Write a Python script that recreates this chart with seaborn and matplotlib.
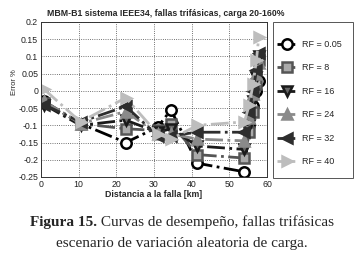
import numpy as np
import matplotlib
matplotlib.use("Agg")
import matplotlib.pyplot as plt
import matplotlib.patches as mpatches
import seaborn as sns

# fault distance [km] and error % per RF value
distancia = [0.8, 10.5, 22.5, 31, 34.5, 41.5, 54, 55.3, 56.3, 57.2, 57.8]
rf_labels = ["RF = 0.05", "RF = 8", "RF = 16", "RF = 24", "RF = 32", "RF = 40"]
err_rf005 = [-0.03, -0.095, -0.15, -0.105, -0.055, -0.21, -0.235, -0.10, -0.045, 0.0, 0.03]
err_rf8 = [-0.035, -0.095, -0.11, -0.115, -0.095, -0.185, -0.195, -0.12, -0.06, 0.02, 0.09]
err_rf16 = [-0.04, -0.10, -0.085, -0.12, -0.11, -0.16, -0.17, -0.10, -0.03, 0.04, 0.10]
err_rf24 = [-0.03, -0.095, -0.06, -0.125, -0.125, -0.14, -0.145, -0.08, -0.01, 0.05, 0.08]
err_rf32 = [-0.04, -0.09, -0.045, -0.13, -0.13, -0.12, -0.12, -0.06, 0.0, 0.06, 0.11]
err_rf40 = [0.005, -0.09, -0.02, -0.125, -0.14, -0.10, -0.09, -0.04, 0.02, 0.09, 0.155]
series = [err_rf005, err_rf8, err_rf16, err_rf24, err_rf32, err_rf40]

sns.set_style("white")
plt.rcParams["font.family"] = ["Liberation Sans", "DejaVu Sans"]

#styles for each curve
colores = ["#000000", "#555555", "#1a1a1a", "#8a8a8a", "#2e2e2e", "#bdbdbd"]
caras = ["#ffffff", "#aaaaaa", "#666666", "#8a8a8a", "#2e2e2e", "#bdbdbd"]
marcas = ["o", "s", "v", "^", "<", ">"]

W, H = 363, 259
fig = plt.figure(figsize=(W / 100, H / 100), dpi=100)
ax = fig.add_axes([41 / W, 1 - 177 / H, 226 / W, 155 / H])

for i in range(len(series)):
    sns.lineplot(x=distancia, y=series[i], ax=ax, color=colores[i], linestyle="-.",
                 linewidth=2.0, marker=marcas[i], markersize=7.5,
                 markerfacecolor=caras[i], markeredgecolor=colores[i],
                 markeredgewidth=1.8, label=rf_labels[i])

ax.set_xlim(0, 60)
ax.set_ylim(-0.25, 0.2)
ax.set_xticks([0, 10, 20, 30, 40, 50, 60])
ax.set_yticks([-0.25, -0.2, -0.15, -0.1, -0.05, 0, 0.05, 0.1, 0.15, 0.2])
ax.set_yticklabels(["-0.25", "-0.2", "-0.15", "-0.1", "-0.05", "0", "0.05", "0.1", "0.15", "0.2"])
ax.tick_params(labelsize=6.3, length=2, direction="in", pad=2, labelcolor="#222222")
ax.grid(True, linestyle=":", color="#444444", linewidth=0.6)
for s in ax.spines.values():
    s.set_color("#333333")
    s.set_linewidth(0.7)

ax.set_xlabel("Distancia a la falla [km]", fontsize=6.3, fontweight="bold", labelpad=1)
ax.set_ylabel("Error %", fontsize=5.5)
ax.yaxis.set_label_coords(-0.103, 0.61)
fig.text(166 / W, 1 - 14 / H, "MBM-B1 sistema IEEE34, fallas trifásicas, carga 20-160%",
         fontsize=6.3, fontweight="bold", ha="center", va="center")

# legend without its own frame, box drawn separately
handles, labels = ax.get_legend_handles_labels()
ax.get_legend().remove()
fig.legend(handles, labels, loc="upper left", bbox_to_anchor=(277 / W, 1 - 40 / H),
           fontsize=6.5, frameon=False, handlelength=2.3, labelspacing=1.6,
           borderpad=0, handletextpad=0.5, borderaxespad=0)
fig.patches.append(mpatches.Rectangle((273 / W, 1 - 178 / H), 80 / W, 156 / H,
                                      transform=fig.transFigure, fill=False,
                                      edgecolor="#555555", linewidth=0.7))

# caption below the plot, bold "Figura 15." then normal text
fig.canvas.draw()
r = fig.canvas.get_renderer()
cap_font = ["Liberation Serif", "DejaVu Serif"]
t1 = fig.text(0, 0, "Figura 15.", fontsize=11, fontweight="bold", family=cap_font, va="baseline")
t2 = fig.text(0, 0, " Curvas de desempeño, fallas trifásicas", fontsize=11, family=cap_font,
              va="baseline")
w1 = t1.get_window_extent(r).width
w2 = t2.get_window_extent(r).width
x0 = (W - w1 - w2) / 2 / W
y1 = 1 - 226 / H
t1.set_position((x0, y1))
t2.set_position((x0 + w1 / W, y1))
fig.text(0.5, 1 - 247 / H, "escenario de variación aleatoria de carga.", fontsize=11,
         family=cap_font, ha="center", va="baseline")

fig.savefig("out.png", dpi=100)
